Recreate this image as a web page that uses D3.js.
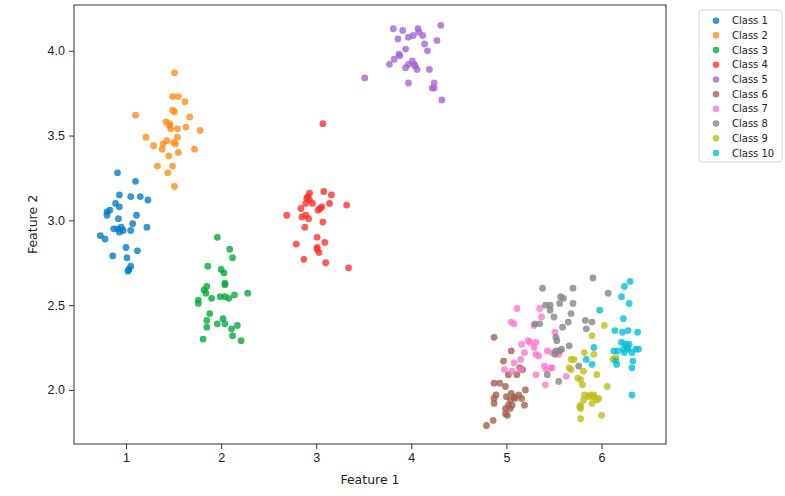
<!DOCTYPE html>
<html>
<head>
<meta charset="UTF-8">
<script src="https://cdn.jsdelivr.net/npm/d3@7"></script>
<style>
  body { margin: 0; background: #fff; }
  svg { font-family: "DejaVu Sans", sans-serif; }
  .tick text { fill: #222; }
</style>
</head>
<body>
<div id="chart"></div>
<script>
// class names shown in the legend
const classNames = ["Class 1", "Class 2", "Class 3", "Class 4", "Class 5",
                    "Class 6", "Class 7", "Class 8", "Class 9", "Class 10"];

const classColors = ["#0078c8", "#ff8a14", "#00a83a", "#ff2a2a", "#a264d2",
                     "#a25c4a", "#ff74cc", "#838383", "#bcbc14", "#00bed8"];

// points as [feature1, feature2]
const class1 = [[0.91,3.28],[1.10,3.23],[0.93,3.15],[1.05,3.14],[1.15,3.14],[1.23,3.12],
  [0.89,3.10],[0.93,3.08],[0.83,3.06],[0.80,3.05],[0.80,3.03],[1.11,3.03],[0.92,3.01],
  [1.07,2.98],[1.22,2.96],[0.87,2.95],[0.95,2.96],[0.97,2.94],[0.91,2.95],[1.05,2.94],
  [0.93,2.93],[0.73,2.91],[0.78,2.89],[1.00,2.84],[1.12,2.82],[0.86,2.79],[1.01,2.78],
  [1.05,2.73],[1.03,2.71],[1.02,2.70]];

const class2 = [[1.51,3.87],[1.49,3.73],[1.55,3.73],[1.62,3.70],[1.49,3.65],[1.51,3.64],
  [1.10,3.62],[1.67,3.61],[1.42,3.58],[1.46,3.56],[1.47,3.54],[1.63,3.55],[1.54,3.54],
  [1.78,3.53],[1.21,3.49],[1.54,3.49],[1.43,3.47],[1.39,3.45],[1.50,3.46],[1.52,3.45],
  [1.29,3.44],[1.38,3.42],[1.72,3.42],[1.55,3.40],[1.45,3.38],[1.49,3.32],[1.33,3.32],
  [1.44,3.28],[1.51,3.20],[1.46,3.57]];

const class3 = [[1.96,2.90],[2.09,2.83],[2.12,2.78],[1.86,2.73],[2.00,2.71],[2.03,2.69],
  [2.04,2.63],[1.85,2.61],[1.82,2.59],[1.84,2.57],[2.04,2.62],[1.99,2.55],[2.04,2.55],
  [2.08,2.54],[2.14,2.56],[2.28,2.57],[1.90,2.54],[1.76,2.53],[1.76,2.51],[1.88,2.45],
  [2.02,2.42],[1.85,2.41],[1.96,2.39],[2.04,2.39],[2.17,2.38],[1.85,2.37],[2.11,2.36],
  [2.12,2.32],[2.21,2.29],[1.81,2.30]];

const class4 = [[3.07,3.57],[2.93,3.16],[3.08,3.17],[3.16,3.15],[2.90,3.13],[2.93,3.12],
  [2.89,3.10],[2.96,3.10],[3.14,3.10],[3.32,3.09],[3.06,3.08],[3.04,3.07],[2.84,3.07],
  [3.02,3.06],[2.69,3.03],[2.85,3.02],[2.89,3.03],[2.92,3.01],[3.07,2.99],[2.88,2.96],
  [3.01,2.90],[2.79,2.86],[3.09,2.87],[3.01,2.84],[3.03,2.81],[2.87,2.77],[3.10,2.75],
  [3.34,2.72],[2.91,3.14],[3.01,2.83]];

const class5 = [[3.81,4.13],[3.91,4.12],[4.07,4.13],[4.31,4.15],[4.02,4.09],[4.12,4.09],
  [3.97,4.08],[3.86,4.07],[4.27,4.06],[4.14,4.04],[3.94,4.01],[4.17,4.00],[3.87,3.98],
  [3.88,3.97],[3.82,3.95],[3.77,3.92],[4.01,3.94],[3.97,3.92],[4.04,3.91],[3.94,3.90],
  [4.06,3.89],[4.19,3.89],[3.51,3.84],[3.97,3.81],[4.24,3.81],[4.22,3.78],[4.24,3.78],
  [4.32,3.71],[4.08,4.11],[4.03,3.92]];

const class6 = [[4.87,2.31],[5.05,2.23],[4.97,2.17],[5.14,2.13],[5.17,2.12],[5.11,2.09],
  [5.02,2.09],[4.87,2.04],[4.93,2.04],[4.99,2.02],[5.20,2.00],[4.89,1.97],[5.05,1.98],
  [5.13,1.97],[5.09,1.95],[4.87,1.95],[5.00,1.96],[5.16,1.95],[5.04,1.94],[4.87,1.92],
  [5.19,1.91],[5.02,1.91],[5.06,1.91],[4.99,1.89],[5.04,1.89],[4.99,1.86],[5.01,1.85],
  [4.86,1.82],[4.79,1.79],[5.08,1.96]];

const class7 = [[5.11,2.48],[5.35,2.48],[5.05,2.40],[5.08,2.39],[5.37,2.43],[5.29,2.38],
  [5.51,2.34],[5.23,2.29],[5.31,2.28],[5.16,2.27],[5.29,2.25],[5.19,2.22],[5.31,2.21],
  [5.34,2.20],[5.43,2.23],[5.48,2.22],[5.55,2.21],[5.15,2.18],[5.08,2.16],[4.98,2.12],
  [5.06,2.11],[5.40,2.14],[5.47,2.13],[5.31,2.09],[5.42,2.12],[5.63,2.08],[5.41,2.03],
  [5.15,2.12],[5.25,2.28],[5.48,2.13]];

const class8 = [[5.91,2.66],[5.38,2.60],[5.70,2.60],[6.07,2.57],[5.57,2.55],[5.60,2.54],
  [5.41,2.50],[5.46,2.50],[5.56,2.51],[5.70,2.51],[5.46,2.47],[5.68,2.45],[5.50,2.43],
  [5.83,2.41],[5.90,2.40],[5.65,2.40],[5.35,2.39],[5.30,2.39],[5.59,2.37],[5.84,2.36],
  [5.52,2.31],[5.53,2.29],[5.66,2.26],[5.58,2.24],[5.52,2.23],[5.51,2.21],[5.76,2.14],
  [5.43,2.09],[5.55,2.05],[5.56,2.23]];

const class9 = [[6.03,2.38],[5.90,2.32],[5.82,2.22],[5.92,2.21],[5.68,2.18],[5.71,2.18],
  [6.12,2.18],[5.66,2.13],[5.81,2.11],[5.95,2.09],[5.75,2.07],[5.78,2.06],[5.80,2.03],
  [6.06,2.02],[5.82,1.97],[5.88,1.97],[5.92,1.97],[5.91,1.96],[5.81,1.94],[5.97,1.95],
  [5.90,1.92],[5.77,1.90],[5.78,1.89],[6.00,1.85],[5.78,1.83],[6.15,2.19],[5.68,2.12],
  [5.86,1.96],[5.78,1.91],[5.95,1.94]];

const class10 = [[6.30,2.64],[6.24,2.61],[6.21,2.55],[6.29,2.51],[5.98,2.47],[6.23,2.42],
  [6.14,2.35],[6.22,2.34],[6.28,2.35],[6.38,2.34],[6.21,2.28],[6.25,2.27],[6.29,2.27],
  [5.92,2.25],[6.13,2.23],[6.23,2.24],[6.28,2.24],[6.36,2.24],[6.39,2.24],[6.24,2.22],
  [6.32,2.22],[5.84,2.18],[6.15,2.17],[6.33,2.17],[6.16,2.15],[5.90,2.15],[6.32,2.13],
  [6.32,1.97],[6.17,2.23],[6.27,2.25]];

const xTicks = [1, 2, 3, 4, 5, 6];
const yTicks = [2.0, 2.5, 3.0, 3.5, 4.0];

const series = [class1, class2, class3, class4, class5,
                class6, class7, class8, class9, class10];

const W = 785, H = 496;
const plot = { left: 74, right: 666, top: 5, bottom: 444 };

const svg = d3.select("#chart").append("svg")
    .attr("width", W)
    .attr("height", H);

const x = d3.scaleLinear().domain([0.453, 6.678]).range([plot.left, plot.right]);
const y = d3.scaleLinear().domain([1.681, 4.27]).range([plot.bottom, plot.top]);

// points
series.forEach((pts, i) => {
    svg.append("g")
        .selectAll("circle")
        .data(pts)
        .enter().append("circle")
        .attr("cx", d => x(d[0]))
        .attr("cy", d => y(d[1]))
        .attr("r", 3.4)
        .attr("fill", classColors[i])
        .attr("fill-opacity", 0.78);
});

// axes
const xAxis = svg.append("g")
    .attr("transform", `translate(0,${plot.bottom})`)
    .call(d3.axisBottom(x).tickValues(xTicks).tickFormat(d3.format("d")).tickSizeOuter(0).tickSize(5).tickPadding(4));

const yAxis = svg.append("g")
    .attr("transform", `translate(${plot.left},0)`)
    .call(d3.axisLeft(y).tickValues(yTicks).tickFormat(d3.format(".1f")).tickSizeOuter(0).tickSize(5).tickPadding(4));

[xAxis, yAxis].forEach(a => {
    a.select(".domain").remove();
    a.selectAll(".tick line").attr("stroke", "#333");
    a.selectAll(".tick text").attr("font-size", 12.5).attr("fill", "#222");
});

// frame
svg.append("rect")
    .attr("x", plot.left)
    .attr("y", plot.top)
    .attr("width", plot.right - plot.left)
    .attr("height", plot.bottom - plot.top)
    .attr("fill", "none")
    .attr("stroke", "#444")
    .attr("stroke-width", 1.1);

// axis labels
svg.append("text")
    .attr("x", (plot.left + plot.right) / 2)
    .attr("y", 484)
    .attr("text-anchor", "middle")
    .attr("font-size", 12.5)
    .attr("fill", "#222")
    .text("Feature 1");

svg.append("text")
    .attr("transform", `translate(37,${(plot.top + plot.bottom) / 2}) rotate(-90)`)
    .attr("text-anchor", "middle")
    .attr("font-size", 12.5)
    .attr("fill", "#222")
    .text("Feature 2");

// legend
const legend = svg.append("g").attr("transform", "translate(699,10)");

legend.append("rect")
    .attr("width", 83)
    .attr("height", 152)
    .attr("rx", 3)
    .attr("fill", "#fff")
    .attr("stroke", "#d6d6d6");

const item = legend.selectAll(".item")
    .data(classNames)
    .enter().append("g")
    .attr("class", "item")
    .attr("transform", (d, i) => `translate(0,${10.7 + i * 14.7})`);

item.append("circle")
    .attr("cx", 17)
    .attr("r", 3.3)
    .attr("fill", (d, i) => classColors[i])
    .attr("fill-opacity", 0.78);

item.append("text")
    .attr("x", 33)
    .attr("dy", "0.35em")
    .attr("font-size", 10)
    .attr("fill", "#222")
    .text(d => d);
</script>
</body>
</html>
